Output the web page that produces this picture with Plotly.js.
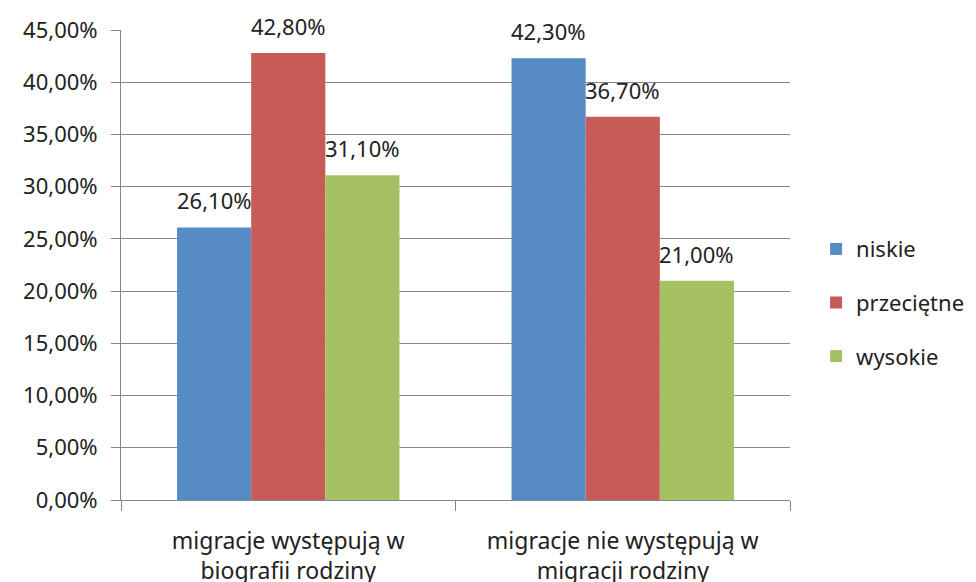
<!DOCTYPE html>
<html><head><meta charset="utf-8">
<script src="https://cdn.plot.ly/plotly-3.0.1.min.js"></script>
<style>html,body{margin:0;padding:0;background:#fff}#chart{width:976px;height:582px}</style>
</head><body><div id="chart"></div>
<script>
const categories = ["migracje występują w<br>biografii rodziny", "migracje nie występują w<br>migracji rodziny"];
const seriesNames = ["niskie", "przeciętne", "wysokie"];
const niskie = [26.1, 42.3];
const przecietne = [42.8, 36.7];
const wysokie = [31.1, 21.0];
const seriesValues = [niskie, przecietne, wysokie];
const colors = ["#568BC6", "#C75B58", "#A6C164"];
const tickVals = [0, 5, 10, 15, 20, 25, 30, 35, 40, 45];
const tickText = ["0,00%", "5,00%", "10,00%", "15,00%", "20,00%", "25,00%", "30,00%", "35,00%", "40,00%", "45,00%"];

const fmt = v => v.toFixed(2).replace('.', ',') + '%';
const FONT = "'Noto Sans', 'Open Sans', sans-serif";
const W = 976, H = 582;
const margin = {l: 121, r: 186, t: 30, b: 82, autoexpand: false};
const bargap = 0.335;

const traces = seriesValues.map((vals, i) => ({
  type: 'bar', name: seriesNames[i], x: categories, y: vals,
  marker: {color: colors[i], line: {width: 0}},
  legendgroup: 'g' + i, hoverinfo: 'skip'
}));

const plotW = W - margin.l - margin.r;
const catPx = plotW / categories.length;
const barPx = catPx * (1 - bargap) / seriesValues.length;
const annotations = [];
seriesValues.forEach((vals, i) => {
  vals.forEach((v, j) => {
    annotations.push({
      x: categories[j], y: v, xref: 'x', yref: 'y',
      text: fmt(v), showarrow: false,
      xshift: (i - (seriesValues.length - 1) / 2) * barPx,
      yshift: 27, yanchor: 'middle', xanchor: 'center',
      font: {family: FONT, size: 22, color: '#222'}
    });
  });
});

const layout = {
  width: W, height: H, margin: margin,
  paper_bgcolor: '#fff', plot_bgcolor: '#fff',
  barmode: 'group', bargap: bargap, bargroupgap: 0,
  font: {family: FONT, size: 22, color: '#222'},
  showlegend: true,
  legend: {x: 1.039, xanchor: 'left', y: 0.42, yanchor: 'middle',
    font: {family: FONT, size: 22, color: '#222'}, tracegroupgap: 22,
    itemwidth: 30, bgcolor: 'rgba(0,0,0,0)'},
  xaxis: {type: 'category', showgrid: false, showline: true, linecolor: '#868686', linewidth: 1,
    ticks: 'outside', tickson: 'boundaries', ticklen: 10, tickcolor: '#868686',
    ticklabelstandoff: 20, tickfont: {family: FONT, size: 23, color: '#222'}, fixedrange: true},
  yaxis: {range: [0, 45], tickvals: tickVals, ticktext: tickText, showgrid: true,
    gridcolor: '#868686', gridwidth: 1, showline: true, linecolor: '#868686', linewidth: 1,
    ticks: 'outside', ticklen: 9, tickcolor: '#868686', ticklabelstandoff: 9,
    zeroline: false, tickfont: {family: FONT, size: 22, color: '#222'}, fixedrange: true},
  annotations: annotations
};
Plotly.newPlot('chart', traces, layout, {displayModeBar: false, staticPlot: true});
</script></body></html>
